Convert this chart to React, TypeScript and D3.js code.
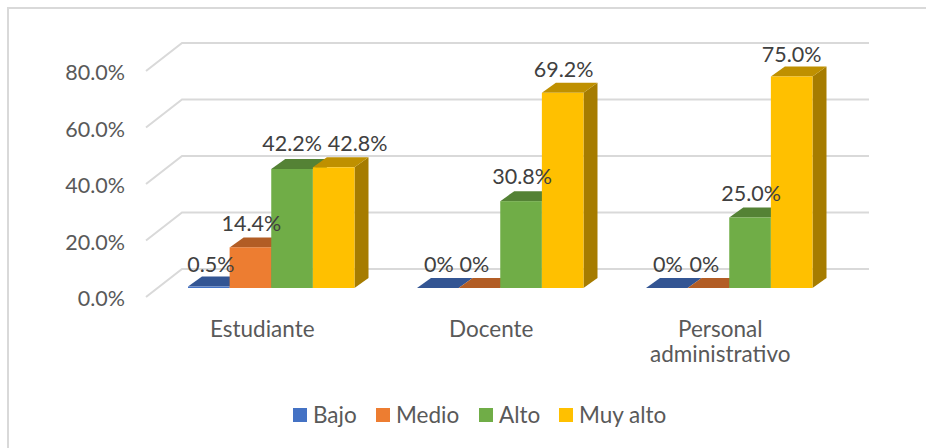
import React from "react";
import * as d3 from "d3";

const categories = ["Estudiante", "Docente", "Personal administrativo"];
const seriesNames = ["Bajo", "Medio", "Alto", "Muy alto"];
const bajo = [0.5, 0, 0];
const medio = [14.4, 0, 0];
const alto = [42.2, 30.8, 25.0];
const muyAlto = [42.8, 69.2, 75.0];
const labelsBajo = ["0.5%", "0%", "0%"];
const labelsMedio = ["14.4%", "0%", "0%"];
const labelsAlto = ["42.2%", "30.8%", "25.0%"];
const labelsMuyAlto = ["42.8%", "69.2%", "75.0%"];
const ticks = [0, 20, 40, 60, 80];

const front = ["#4472c4", "#ed7d31", "#70ad47", "#ffc000"];
const topFace = ["#335593", "#b25d25", "#548235", "#bf9000"];
const side = ["#2a4679", "#8e4b1e", "#44692b", "#a67c00"];
const FONT = "Lato, sans-serif";
const DX = 14, DY = 10;

// manual label nudges as in the original [series][category]
const labelDx = [[2, 1, 1], [1, -5, -4], [0, 1, 1], [24, 1, 0]];
const labelDy = [[-15, -16, -16], [-16, -16, -16], [-18, -17, -17], [-16, -16, -15]];

export default function App() {
  const values = [bajo, medio, alto, muyAlto];
  const labels = [labelsBajo, labelsMedio, labelsAlto, labelsMuyAlto];
  const yFront = d3.scaleLinear().domain([0, 80]).range([288, 62.4]);
  const yBack = d3.scaleLinear().domain([0, 80]).range([269, 43]);
  const x0 = d3.scaleBand<string>().domain(categories).range([188, 188 + 229 * 3 - 62.5]).paddingInner(62.5 / 229).paddingOuter(0);
  const x1 = d3.scaleBand<string>().domain(seriesNames).range([0, x0.bandwidth()]);
  const w = x1.bandwidth();
  const legendX = [293, 376, 479, 559];

  const poly = (pts: [number, number][]) => {
    const p = d3.path();
    pts.forEach(([a, b], i) => (i ? p.lineTo(a, b) : p.moveTo(a, b)));
    p.closePath();
    return p.toString();
  };

  return (
    <svg width={926} height={448} style={{ position: "absolute", left: 0, top: 0, display: "block", background: "#fff" }} fontFamily={FONT}>
      <path d="M8,448V8H926" fill="none" stroke="#d9d9d9" strokeWidth={2} />
      {ticks.map((t) => (
        <g key={t}>
          <path d={`M146,${yBack(t) + 28}L182,${yBack(t)}H869`} fill="none" stroke="#d9d9d9" strokeWidth={2} />
          <text x={125} y={yBack(t) + 28 + 9} textAnchor="end" fontSize={21.5} fill="#595959">{t.toFixed(1)}%</text>
        </g>
      ))}
      {categories.map((c, ci) => (
        <g key={c}>
          {seriesNames.map((s, si) => {
            const x = x0(c)! + x1(s)!;
            const yt = yFront(values[si][ci]);
            const yb = yFront(0);
            return (
              <g key={s}>
                <path d={poly([[x + w, yb], [x + w + DX, yb - DY], [x + w + DX, yt - DY], [x + w, yt]])} fill={side[si]} />
                <path d={poly([[x, yt], [x + DX, yt - DY], [x + w + DX, yt - DY], [x + w, yt]])} fill={topFace[si]} />
                <rect x={x} y={yt} width={w} height={yb - yt} fill={front[si]} />
              </g>
            );
          })}
        </g>
      ))}
      {categories.map((c, ci) =>
        seriesNames.map((s, si) => (
          <text key={c + s} x={x0(c)! + x1(s)! + w / 2 + labelDx[si][ci]} y={yFront(values[si][ci]) + labelDy[si][ci]} textAnchor="middle" fontSize={21.5} fill="#404040">
            {labels[si][ci]}
          </text>
        ))
      )}
      {categories.map((c) => {
        const cx = x0(c)! + x0.bandwidth() / 2 - 9;
        const parts = c === "Personal administrativo" ? ["Personal", "administrativo"] : [c];
        return parts.map((line, i) => (
          <text key={line} x={cx} y={337 + i * 25} textAnchor="middle" fontSize={22.5} fill="#595959">{line}</text>
        ));
      })}
      {seriesNames.map((s, i) => (
        <g key={s}>
          <rect x={legendX[i]} y={408} width={14} height={14} fill={front[i]} />
          <text x={legendX[i] + 20} y={423} fontSize={22.5} fill="#595959">{s}</text>
        </g>
      ))}
    </svg>
  );
}
